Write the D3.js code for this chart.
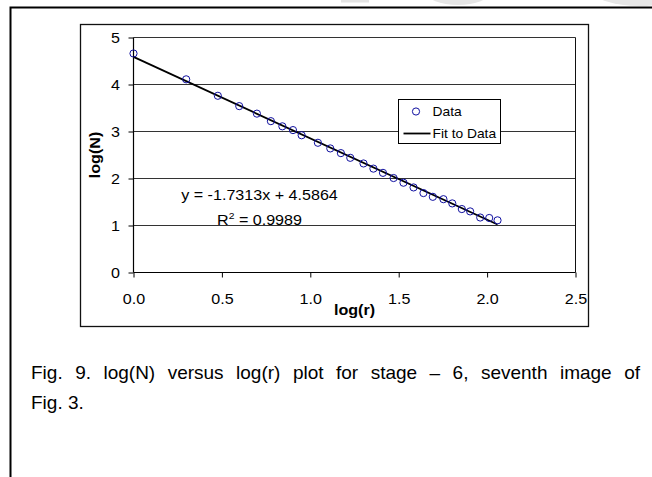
<!DOCTYPE html>
<html>
<head>
<meta charset="utf-8">
<script src="https://cdn.jsdelivr.net/npm/d3@7"></script>
<style>
  html, body { margin: 0; padding: 0; background: #fff; }
  svg { display: block; }
  text { font-family: "Liberation Sans", Arial, sans-serif; fill: #000; }
</style>
</head>
<body>
<svg id="chart" width="652" height="477"></svg>
<script>
// Box-counting data: log of box size vs log of box count
const logR = [0.000, 0.298, 0.477, 0.598, 0.698, 0.777, 0.842, 0.902, 0.951, 1.043,
              1.113, 1.173, 1.226, 1.301, 1.357, 1.411, 1.471, 1.527, 1.584, 1.640,
              1.693, 1.753, 1.803, 1.857, 1.904, 1.961, 2.012, 2.059];
const logN = [4.66, 4.11, 3.76, 3.54, 3.38, 3.22, 3.11, 3.03, 2.92, 2.76,
              2.64, 2.54, 2.44, 2.32, 2.21, 2.12, 2.01, 1.91, 1.81, 1.69,
              1.61, 1.56, 1.47, 1.35, 1.30, 1.17, 1.16, 1.11];

// Least-squares fit reported on the chart
const fitSlope = -1.7313;
const fitIntercept = 4.5864;
const fitR2 = 0.9989;

const xTicks = [0, 0.5, 1.0, 1.5, 2.0, 2.5];
const yTicks = [0, 1, 2, 3, 4, 5];
const legendLabels = ["Data", "Fit to Data"];
const xTitle = "log(r)";
const yTitle = "log(N)";
const captionLines = ["Fig. 9. log(N) versus log(r) plot for stage \u2013 6, seventh image of", "Fig. 3."];

const svg = d3.select("#chart");
const SX = 1.15; // horizontal stretch of chart lettering

// faint marks along the top edge
svg.append("rect").attr("x", 341).attr("y", 0).attr("width", 28).attr("height", 2.5).attr("fill", "#e4e4e4");
svg.append("ellipse").attr("cx", 458).attr("cy", -8).attr("rx", 32).attr("ry", 13).attr("fill", "#e6e6e6");
svg.append("ellipse").attr("cx", 640).attr("cy", -10).attr("rx", 48).attr("ry", 16).attr("fill", "#e6e6e6");

// outer page frame (continues past right and bottom edges)
svg.append("path")
  .attr("d", "M10.5,480 V7.5 H660")
  .attr("fill", "none").attr("stroke", "#000").attr("stroke-width", 2);

// chart area border
svg.append("rect")
  .attr("x", 80.5).attr("y", 24.5).attr("width", 508).attr("height", 302)
  .attr("fill", "#fff").attr("stroke", "#111").attr("stroke-width", 1.3);

const x = d3.scaleLinear().domain([0, 2.5]).range([133.5, 575.5]);
const y = d3.scaleLinear().domain([0, 5]).range([272.5, 37.5]);

// horizontal gridlines
svg.append("g").selectAll("line")
  .data(yTicks.filter(d => d > 0))
  .join("line")
  .attr("x1", x(0)).attr("x2", x(2.5))
  .attr("y1", d => y(d)).attr("y2", d => y(d))
  .attr("stroke", "#333").attr("stroke-width", 1);

// plot-area right edge
svg.append("line")
  .attr("x1", x(2.5)).attr("x2", x(2.5)).attr("y1", y(5)).attr("y2", y(0))
  .attr("stroke", "#111").attr("stroke-width", 1);

// axes
const yAxis = svg.append("g")
  .attr("transform", `translate(${x(0)},0)`)
  .call(d3.axisLeft(y).tickValues(yTicks).tickFormat(d3.format("d")).tickSize(5).tickPadding(8));
const xAxis = svg.append("g")
  .attr("transform", `translate(0,${y(0)})`)
  .call(d3.axisBottom(x).tickValues(xTicks).tickFormat(d3.format(".1f")).tickSize(5));

[yAxis, xAxis].forEach(g => {
  g.select(".domain").attr("stroke", "#000").attr("stroke-width", 1.2);
  g.selectAll(".tick line").attr("stroke", "#000");
  g.selectAll(".tick text")
    .attr("font-family", "'Liberation Sans', Arial, sans-serif")
    .attr("font-size", 14).attr("fill", "#000");
});
yAxis.select(".domain").attr("d", `M0,${y(5)}V${y(0)}`);
xAxis.select(".domain").attr("d", `M${x(0)},0H${x(2.5)}`);
yAxis.selectAll(".tick text")
  .attr("x", -13.5 / SX).attr("dy", "0.36em")
  .attr("transform", `scale(${SX},1)`);
xAxis.selectAll(".tick text")
  .attr("y", 31.5).attr("dy", null)
  .attr("transform", `scale(${SX},1)`);

// axis titles
svg.append("text")
  .attr("transform", `translate(${(x(0) + x(2.5)) / 2},315) scale(${SX},1)`)
  .attr("text-anchor", "middle").attr("font-size", 14).attr("font-weight", "bold")
  .text(xTitle);
svg.append("text")
  .attr("transform", `translate(100,${(y(0) + y(5)) / 2}) rotate(-90) scale(${SX},1)`)
  .attr("text-anchor", "middle").attr("font-size", 14).attr("font-weight", "bold")
  .text(yTitle);

// fitted line across the data range
const xr = d3.extent(logR);
svg.append("line")
  .attr("x1", x(xr[0])).attr("y1", y(fitSlope * xr[0] + fitIntercept))
  .attr("x2", x(xr[1])).attr("y2", y(fitSlope * xr[1] + fitIntercept))
  .attr("stroke", "#000").attr("stroke-width", 1.8);

// data markers
const pts = logR.map((v, i) => ({ x: v, y: logN[i] }));
svg.append("g").selectAll("circle")
  .data(pts)
  .join("circle")
  .attr("cx", d => x(d.x)).attr("cy", d => y(d.y)).attr("r", 3.6)
  .attr("fill", "none").attr("stroke", "#1010a0").attr("stroke-width", 1);

// fit equation
const eqG = svg.append("g").attr("transform", `translate(259.5,0)`);
eqG.append("text")
  .attr("transform", `translate(0,199.5) scale(${SX},1)`)
  .attr("text-anchor", "middle").attr("font-size", 14)
  .text(`y = ${fitSlope}x + ${fitIntercept}`);
const r2 = eqG.append("text")
  .attr("transform", `translate(0,225) scale(${SX},1)`)
  .attr("text-anchor", "middle").attr("font-size", 14);
r2.append("tspan").text("R");
r2.append("tspan").attr("font-size", 9).attr("dy", -6).text("2");
r2.append("tspan").attr("dy", 6).text(` = ${fitR2}`);

// legend
const lg = svg.append("g").attr("transform", "translate(398.5,99.5)");
lg.append("rect").attr("width", 102).attr("height", 44)
  .attr("fill", "#fff").attr("stroke", "#000").attr("stroke-width", 1);
lg.append("circle").attr("cx", 17.5).attr("cy", 12).attr("r", 3.6)
  .attr("fill", "none").attr("stroke", "#1010a0").attr("stroke-width", 1);
lg.append("line").attr("x1", 5).attr("x2", 32).attr("y1", 34).attr("y2", 34)
  .attr("stroke", "#000").attr("stroke-width", 1.8);
legendLabels.forEach((t, i) => {
  lg.append("text")
    .attr("transform", `translate(34,${16.5 + i * 22}) scale(${SX},1)`)
    .attr("font-size", 12).text(t);
});

// figure caption, first line justified to the text width
const capFont = 19;
const l1 = svg.append("text")
  .attr("x", 31).attr("y", 378.5)
  .attr("font-size", capFont).text(captionLines[0]);
const natural = l1.node().getComputedTextLength();
const gaps = (captionLines[0].match(/ /g) || []).length;
const target = 609;
if (natural < target) {
  l1.attr("word-spacing", (target - natural) / gaps);
} else {
  l1.attr("textLength", target).attr("lengthAdjust", "spacingAndGlyphs");
}
svg.append("text")
  .attr("x", 31).attr("y", 409)
  .attr("font-size", capFont).text(captionLines[1]);
</script>
</body>
</html>
